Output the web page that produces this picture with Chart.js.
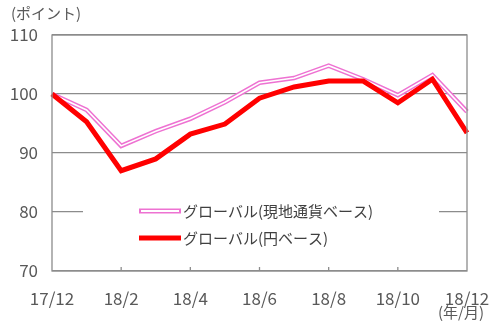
<!DOCTYPE html>
<html>
<head>
<meta charset="utf-8">
<script src="https://cdn.jsdelivr.net/npm/chart.js@4/dist/chart.umd.min.js"></script>
<style>
  html, body { margin: 0; padding: 0; background: #fff; }
  #wrap { width: 500px; height: 324px; position: relative; }
</style>
</head>
<body>
<div id="wrap"><canvas id="chart" width="500" height="324"></canvas></div>
<script>
const months = ["17/12","18/1","18/2","18/3","18/4","18/5","18/6","18/7","18/8","18/9","18/10","18/11","18/12"];
const localBase = [100, 97.3, 91.2, 93.7, 95.8, 98.6, 101.9, 102.7, 104.8, 102.5, 99.8, 103.2, 97.0];
const yenBase   = [100, 95.3, 87.0, 89.0, 93.2, 94.9, 99.3, 101.2, 102.2, 102.2, 98.5, 102.5, 93.4];
const seriesNames = ["グローバル(現地通貨ベース)", "グローバル(円ベース)"];
const yTicks = [70, 80, 90, 100, 110];

const PINK = "#ee72d2";
const RED = "#ff0000";
const AXIS = "#8c8c8c";
const TEXT = "#595959";
const FONT = "'Noto Sans CJK JP', 'Noto Sans', sans-serif";

// frame, inner tick marks, captions and the legend box
const extras = {
  id: "extras",
  afterDatasetsDraw(chart) {
    const { ctx, chartArea: a, scales } = chart;
    ctx.save();
    ctx.strokeStyle = AXIS;
    ctx.lineWidth = 1.3;
    ctx.strokeRect(a.left, a.top, a.right - a.left, a.bottom - a.top);
    // tick marks pointing up from the bottom axis
    months.forEach((m, i) => {
      if (i % 2 === 0 && i > 0 && i < months.length - 1) {
        const x = scales.x.getPixelForValue(i);
        ctx.beginPath();
        ctx.moveTo(x, a.bottom);
        ctx.lineTo(x, a.bottom - 4);
        ctx.stroke();
      }
    });

    // legend
    ctx.fillStyle = "#fff";
    ctx.fillRect(83, 197, 356, 54);
    const rows = [211, 238];
    ctx.lineCap = "butt";
    ctx.strokeStyle = PINK; ctx.lineWidth = 5;
    ctx.beginPath(); ctx.moveTo(139, rows[0]); ctx.lineTo(181, rows[0]); ctx.stroke();
    ctx.strokeStyle = "#fff"; ctx.lineWidth = 2;
    ctx.beginPath(); ctx.moveTo(141, rows[0]); ctx.lineTo(179, rows[0]); ctx.stroke();
    ctx.strokeStyle = RED; ctx.lineWidth = 5;
    ctx.beginPath(); ctx.moveTo(139, rows[1]); ctx.lineTo(181, rows[1]); ctx.stroke();
    ctx.fillStyle = "#404040";
    ctx.font = "15px " + FONT;
    ctx.textBaseline = "middle";
    ctx.textAlign = "left";
    seriesNames.forEach((n, i) => ctx.fillText(n, 183, rows[i]));

    // captions
    ctx.fillStyle = TEXT;
    ctx.font = "15px " + FONT;
    ctx.fillText("(ポイント)", 11, 13);
    ctx.textAlign = "center";
    ctx.fillText("(年/月)", 461, 312);
    ctx.restore();
  }
};

new Chart(document.getElementById("chart").getContext("2d"), {
  type: "line",
  data: {
    labels: months,
    datasets: [
      { label: seriesNames[1], data: yenBase, borderColor: RED, borderWidth: 5,
        pointRadius: 0, tension: 0, order: 0 },
      { label: "inner", data: localBase, borderColor: "#fff", borderWidth: 1.6,
        pointRadius: 0, tension: 0, order: 1 },
      { label: seriesNames[0], data: localBase, borderColor: PINK, borderWidth: 4.6,
        pointRadius: 0, tension: 0, order: 2 }
    ]
  },
  options: {
    responsive: false,
    animation: false,
    layout: { padding: { top: 35, right: 33, left: 0, bottom: 0 } },
    plugins: { legend: { display: false }, tooltip: { enabled: false } },
    scales: {
      x: {
        offset: false,
        grid: { display: false },
        border: { display: false },
        ticks: {
          autoSkip: false, maxRotation: 0, color: TEXT, padding: 9,
          font: { size: 17, family: FONT },
          callback: (v, i) => (i % 2 === 0 ? months[i] : "")
        },
        afterFit: s => { s.height = 53; }
      },
      y: {
        min: 70, max: 110,
        afterBuildTicks: s => { s.ticks = yTicks.map(v => ({ value: v })); },
        grid: { color: AXIS, lineWidth: 1.2, drawTicks: false },
        border: { display: false },
        ticks: { color: TEXT, padding: 14, font: { size: 17, family: FONT } },
        afterFit: s => { s.width = 52; }
      }
    }
  },
  plugins: [extras]
});
</script>
</body>
</html>
